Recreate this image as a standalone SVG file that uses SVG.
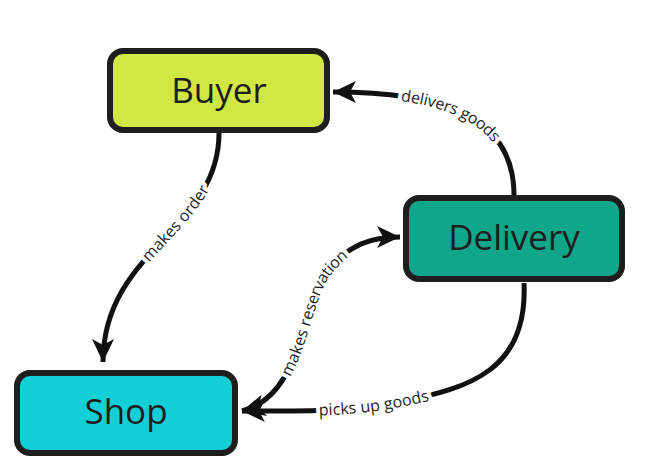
<svg xmlns="http://www.w3.org/2000/svg" width="646" height="468" viewBox="0 0 646 468">
<style>
.box{stroke:#1e1e1e;stroke-width:6}
.nt{font-family:"Open Sans","Noto Sans",sans-serif;font-size:35px;fill:#1e1e1e;text-anchor:middle;dominant-baseline:central}
.edge{fill:none;stroke:#111;stroke-width:5}
.lbl{font-family:"Open Sans","Noto Sans",sans-serif;font-size:16px;fill:#1e1e1e;text-anchor:middle}
.halo{fill:#fff;stroke:#fff;stroke-width:8;stroke-linejoin:round}
</style>
<defs>
<marker id="ah" markerUnits="userSpaceOnUse" markerWidth="26" markerHeight="26" viewBox="0 0 26 26" refX="24" refY="13" orient="auto">
<path d="M24 13 L1 2 L7 13 L1 24 Z" fill="#111"/>
</marker>
<marker id="ahs" markerUnits="userSpaceOnUse" markerWidth="26" markerHeight="26" viewBox="0 0 26 26" refX="2" refY="13" orient="auto">
<path d="M2 13 L25 2 L19 13 L25 24 Z" fill="#111"/>
</marker>
<path id="t1" d="M103 362 C103 250 219 230 219 133"/>
<path id="t2" d="M333 92 C430 92 514 110 514 195"/>
<path id="t3" d="M242 411 C305 395 300 300 330 268 C350 245 370 237 400 237"/>
<path id="t4" d="M245 411 C300 411 350 412 400 402 C470 388 528 370 524 283"/>
</defs>
<g id="connectors">
<path class="edge" d="M219 133 C219 230 103 250 103 362" marker-end="url(#ah)"/>
<path class="edge" d="M514 195 C514 110 430 92 333 92" marker-end="url(#ah)"/>
<path class="edge" d="M242 411 C305 395 300 300 330 268 C350 245 370 237 400 237" marker-start="url(#ahs)" marker-end="url(#ah)"/>
<path class="edge" d="M524 283 C528 370 470 388 400 402 C350 412 300 411 242 411" marker-end="url(#ah)"/>
<g class="lbl halo">
<text dy="5"><textPath href="#t1" startOffset="61%">makes order</textPath></text>
<text dy="5"><textPath href="#t2" startOffset="52%">delivers goods</textPath></text>
<text dy="5"><textPath href="#t3" startOffset="50%">makes reservation</textPath></text>
<text dy="5"><textPath href="#t4" startOffset="37%">picks up goods</textPath></text>
</g>
<g class="lbl">
<text dy="5"><textPath href="#t1" startOffset="61%">makes order</textPath></text>
<text dy="5"><textPath href="#t2" startOffset="52%">delivers goods</textPath></text>
<text dy="5"><textPath href="#t3" startOffset="50%">makes reservation</textPath></text>
<text dy="5"><textPath href="#t4" startOffset="37%">picks up goods</textPath></text>
</g>
</g>
<g id="buyer">
<rect class="box" x="110" y="51" width="217" height="79" rx="13" fill="#d1e743"/>
<text class="nt" x="219" y="89">Buyer</text>
</g>
<g id="delivery">
<rect class="box" x="406" y="198" width="216" height="81" rx="13" fill="#10a68a"/>
<text class="nt" x="514" y="236">Delivery</text>
</g>
<g id="shop">
<rect class="box" x="17" y="373" width="218" height="80" rx="13" fill="#14ced6"/>
<text class="nt" x="126" y="410">Shop</text>
</g>
</svg>
